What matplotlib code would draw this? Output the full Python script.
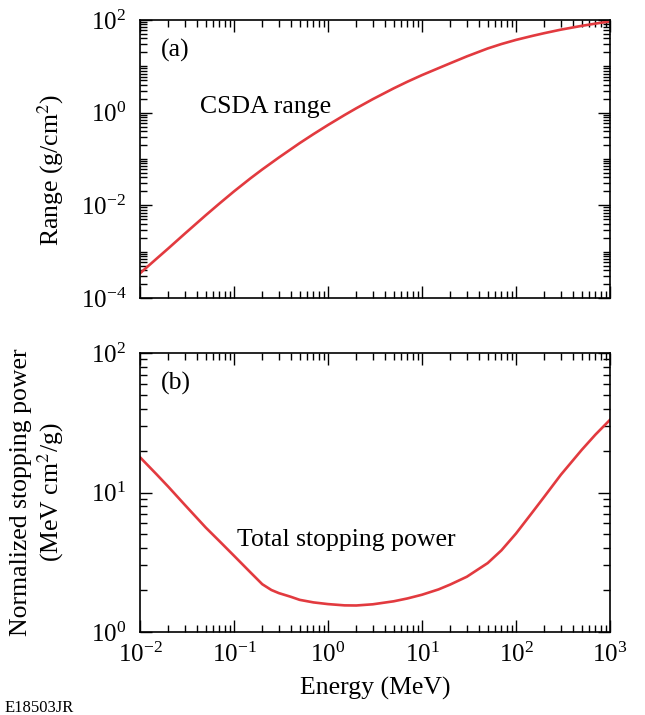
import numpy as np
import matplotlib
matplotlib.use("Agg")
import matplotlib.pyplot as plt
from matplotlib.ticker import LogLocator, FixedLocator, NullFormatter

plt.rcParams['font.family'] = ['Liberation Serif', 'DejaVu Serif']
plt.rcParams['mathtext.fontset'] = 'stix'

# --- data ---
range_energy = [0.01, 0.015, 0.02, 0.03, 0.05, 0.07, 0.1, 0.15, 0.2, 0.3, 0.5, 0.7,
                1, 1.5, 2, 3, 5, 7, 10, 15, 20, 30, 50, 70, 100, 150, 200, 300, 500, 700, 1000]
csda_range = [3.41e-4, 7.05e-4, 1.175e-3, 2.45e-3, 6.10e-3, 0.01094, 0.0200, 0.0384,
              0.0596, 0.1076, 0.2203, 0.344, 0.542, 0.889, 1.245, 1.96, 3.35, 4.66,
              6.47, 9.14, 11.67, 16.4, 24.3, 30.3, 37.2, 45.5, 52.0, 61.9, 74.8, 83.6, 93.3]

sp_energy = [0.01, 0.015, 0.02, 0.03, 0.05, 0.07, 0.1, 0.15, 0.2, 0.25, 0.3, 0.4, 0.5,
             0.7, 1, 1.5, 2, 3, 5, 7, 10, 15, 20, 30, 50, 70, 100, 150, 200, 300, 500,
             700, 1000]
stopping_power = [17.9, 13.5, 11.0, 8.15, 5.61, 4.48, 3.52, 2.67, 2.20, 2.00, 1.90, 1.79,
                  1.70, 1.63, 1.585, 1.552, 1.549, 1.58, 1.66, 1.74, 1.85, 2.02, 2.19,
                  2.49, 3.12, 3.85, 5.08, 7.24, 9.33, 13.4, 20.2, 26.0, 33.2]

x_major = [1e-2, 1e-1, 1e0, 1e1, 1e2, 1e3]
top_y_major = [1e-4, 1e-2, 1e0, 1e2]
bot_y_major = [1e0, 1e1, 1e2]

RED = '#e23a3f'
FS = 18.5
TFS = 18

fig = plt.figure(figsize=(6.45, 7.15), dpi=100)
L, R = 140 / 645, 610 / 645
ax1 = fig.add_axes([L, 1 - 298 / 715, R - L, (298 - 20) / 715])
ax2 = fig.add_axes([L, 1 - 632 / 715, R - L, (632 - 353) / 715])

def style(ax):
    ax.set_xscale('log')
    ax.set_yscale('log')
    ax.set_xlim(1e-2, 1e3)
    ax.xaxis.set_major_locator(FixedLocator(x_major))
    ax.xaxis.set_minor_locator(LogLocator(base=10, subs=np.arange(2, 10), numticks=100))
    ax.xaxis.set_minor_formatter(NullFormatter())
    ax.yaxis.set_minor_locator(LogLocator(base=10, subs=np.arange(1, 10), numticks=100))
    ax.yaxis.set_minor_formatter(NullFormatter())
    ax.tick_params(which='both', direction='in', top=True, right=True, width=1.0,
                   labelsize=TFS)
    ax.tick_params(axis='x', pad=8)
    ax.tick_params(axis='y', pad=10)
    ax.tick_params(which='major', length=8.5)
    ax.tick_params(which='minor', length=5)
    for s in ax.spines.values():
        s.set_linewidth(1.2)

style(ax1)
style(ax2)

ax1.plot(range_energy, csda_range, color=RED, lw=1.9)
ax1.set_ylim(1e-4, 1e2)
ax1.yaxis.set_major_locator(FixedLocator(top_y_major))
ax1.tick_params(axis='x', labelbottom=False)
ax1.set_ylabel('Range (g/cm$^2$)', fontsize=FS)
ax1.yaxis.set_label_coords(-0.158, 0.46)
ax1.text(0.045, 0.892, '(a)', transform=ax1.transAxes, fontsize=FS, va='center')
ax1.text(0.128, 0.688, 'CSDA range', transform=ax1.transAxes, fontsize=FS, va='center')

ax2.plot(sp_energy, stopping_power, color=RED, lw=1.9)
ax2.set_ylim(1e0, 1e2)
ax2.yaxis.set_major_locator(FixedLocator(bot_y_major))
ax2.yaxis.set_minor_locator(LogLocator(base=10, subs=np.arange(2, 10), numticks=100))
ax2.set_ylabel('Normalized stopping power\n(MeV cm$^2$/g)', fontsize=FS,
               linespacing=1.12)
ax2.yaxis.set_label_coords(-0.158, 0.5)
ax2.set_xlabel('Energy (MeV)', fontsize=FS, labelpad=7)
ax2.text(0.045, 0.892, '(b)', transform=ax2.transAxes, fontsize=FS, va='center')
ax2.text(0.206, 0.33, 'Total stopping power', transform=ax2.transAxes, fontsize=FS, va='center')

fig.text(5 / 645, 1 - 708 / 715, 'E18503JR', fontsize=12, va='center', ha='left')

fig.savefig('out.png', dpi=100)
